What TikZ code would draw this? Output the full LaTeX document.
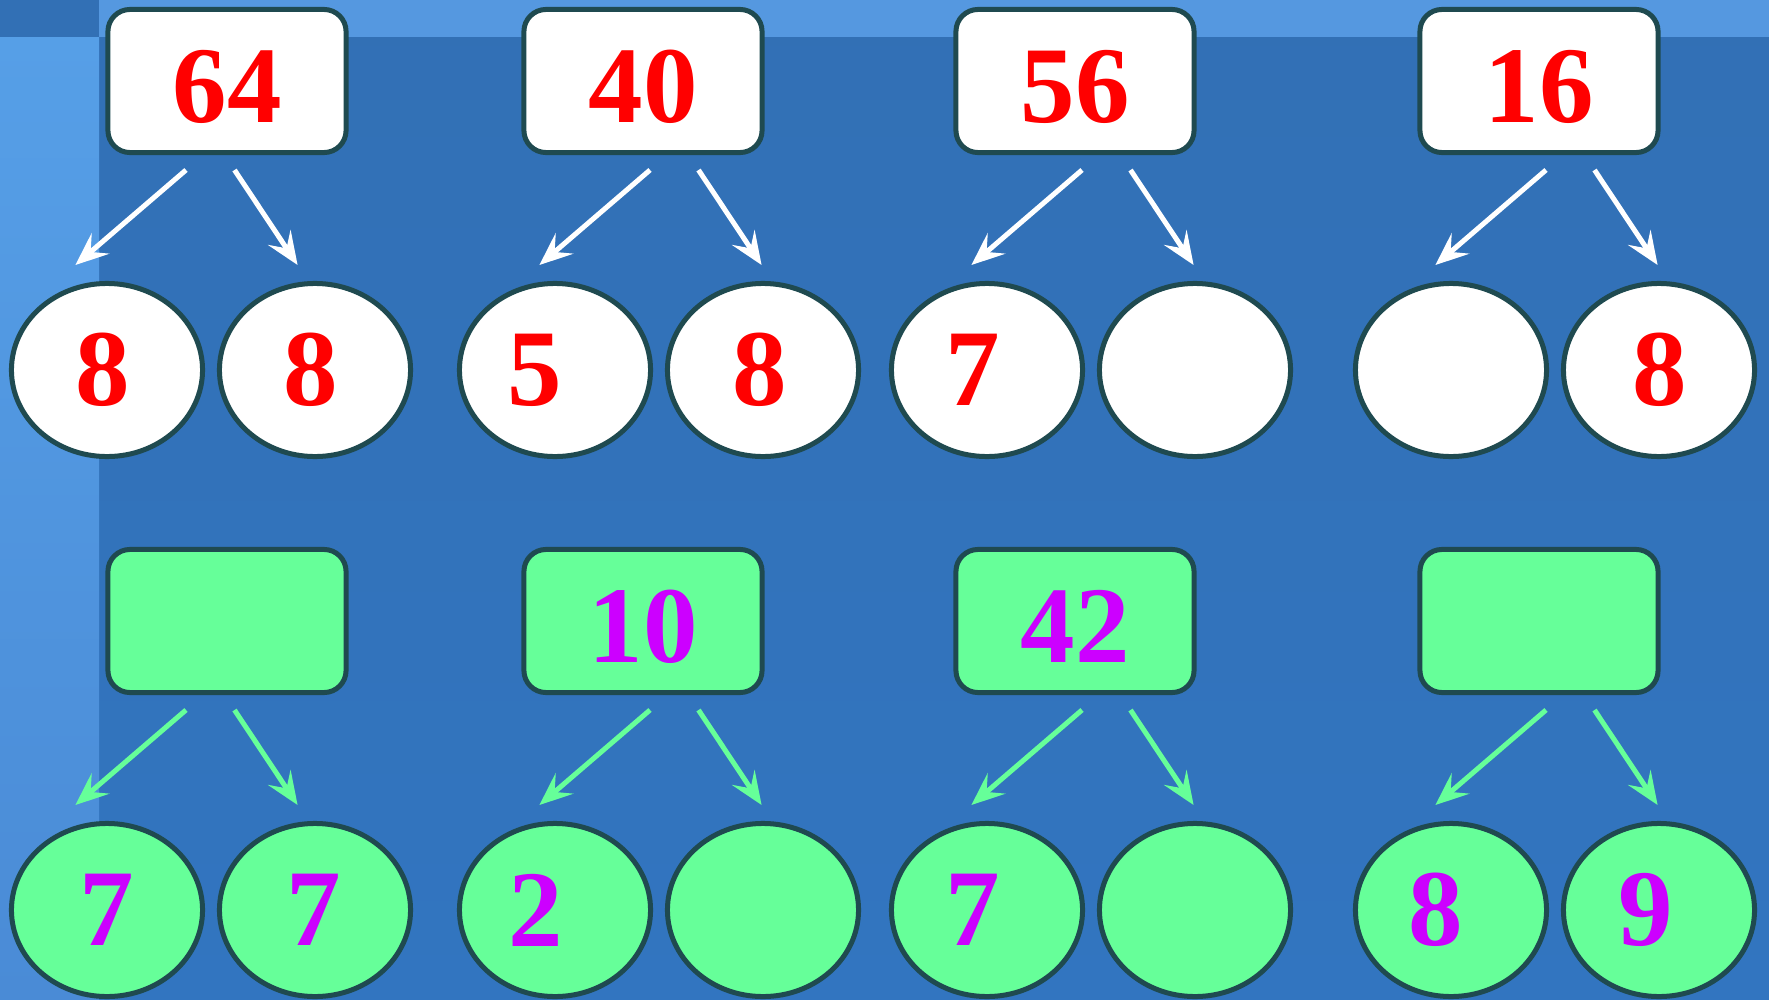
\documentclass[tikz,border=0pt]{standalone}
\usepackage{fontspec}
\setmainfont{Liberation Serif}
\usetikzlibrary{arrows.meta, shapes.geometric}

\definecolor{bgblue}{HTML}{3270B5}
\definecolor{bgbot}{HTML}{3275C0}
\definecolor{sidetop}{HTML}{569FE7}
\definecolor{sidebot}{HTML}{4A8BD6}
\definecolor{stripblue}{HTML}{5598E0}
\definecolor{edgeteal}{HTML}{1F4A50}
\definecolor{mint}{HTML}{66FF99}
\definecolor{numred}{HTML}{FF0000}
\definecolor{numviolet}{HTML}{CC00FF}

\tikzset{
  num/.style={font=\fontsize{31}{31}\selectfont\bfseries, inner sep=0pt},
  wholebox/.style={num, draw=edgeteal, line width=0.05cm, rounded corners=0.22cm,
    minimum width=2.38cm, minimum height=1.43cm, text height=0.82cm, text depth=0cm},
  part/.style={ellipse, draw=edgeteal, line width=0.05cm, inner sep=0pt,
    minimum width=1.91cm, minimum height=1.73cm},
  split/.style={-{Stealth[length=0.33cm, width=0.27cm, inset=0.13cm]}, line width=0.05cm},
}

\begin{document}
\begin{tikzpicture}[x=0.01cm, y=-0.01cm]
  % background
  \useasboundingbox (0,0) rectangle (1769,1000);
  \shade[top color=bgblue, bottom color=bgbot] (0,0) rectangle (1769,1000);
  \shade[top color=sidetop, bottom color=sidebot] (0,37) rectangle (99,1000);
  \fill[stripblue] (99,0) rectangle (1769,37);

  % whole numbers
  \node[wholebox, fill=white, text=numred] (w1) at (227,81) {64};
  \node[wholebox, fill=white, text=numred] (w2) at (643,81) {40};
  \node[wholebox, fill=white, text=numred] (w3) at (1075,81) {56};
  \node[wholebox, fill=white, text=numred] (w4) at (1539,81) {16};
  \node[wholebox, fill=mint, text=numviolet] (w5) at (227,621) {};
  \node[wholebox, fill=mint, text=numviolet] (w6) at (643,621) {10};
  \node[wholebox, fill=mint, text=numviolet] (w7) at (1075,621) {42};
  \node[wholebox, fill=mint, text=numviolet] (w8) at (1539,621) {};

  % parts, top row
  \foreach \i/\x/\d/\s in {1/107/8/-4, 2/315/8/-4, 3/555/5/-20, 4/763/8/-3,
                           5/987/7/-14, 6/1195//0, 7/1451//0, 8/1659/8/1}
    \node[part, fill=white, label={[num, text=numred, xshift=\s*0.01cm]center:\d}]
      (p\i) at (\x,370) {};

  % parts, bottom row
  \foreach \i/\x/\d/\s in {1/107/7/0, 2/315/7/-1, 3/555/2/-19, 4/763//0,
                           5/987/7/-14, 6/1195//0, 7/1451/8/-15, 8/1659/9/-13}
    \node[part, fill=mint, label={[num, text=numviolet, xshift=\s*0.01cm]center:\d}]
      (q\i) at (\x,910) {};

  % arrows
  \foreach \a/\i in {186/1, 650/2, 1082/3, 1546/4} {
    \coordinate (sl\i) at (\a,170);
    \coordinate (tl\i) at (\a-110.6,265);
    \coordinate (sr\i) at (\a+48.5,170);
    \coordinate (tr\i) at (\a+111.6,265);
    \draw[split, white] (sl\i) -- (tl\i);
    \draw[split, white] (sr\i) -- (tr\i);
    \coordinate (ul\i) at (\a,710);
    \coordinate (vl\i) at (\a-110.6,805);
    \coordinate (ur\i) at (\a+48.5,710);
    \coordinate (vr\i) at (\a+111.6,805);
    \draw[split, mint] (ul\i) -- (vl\i);
    \draw[split, mint] (ur\i) -- (vr\i);
  }
\end{tikzpicture}
\end{document}
